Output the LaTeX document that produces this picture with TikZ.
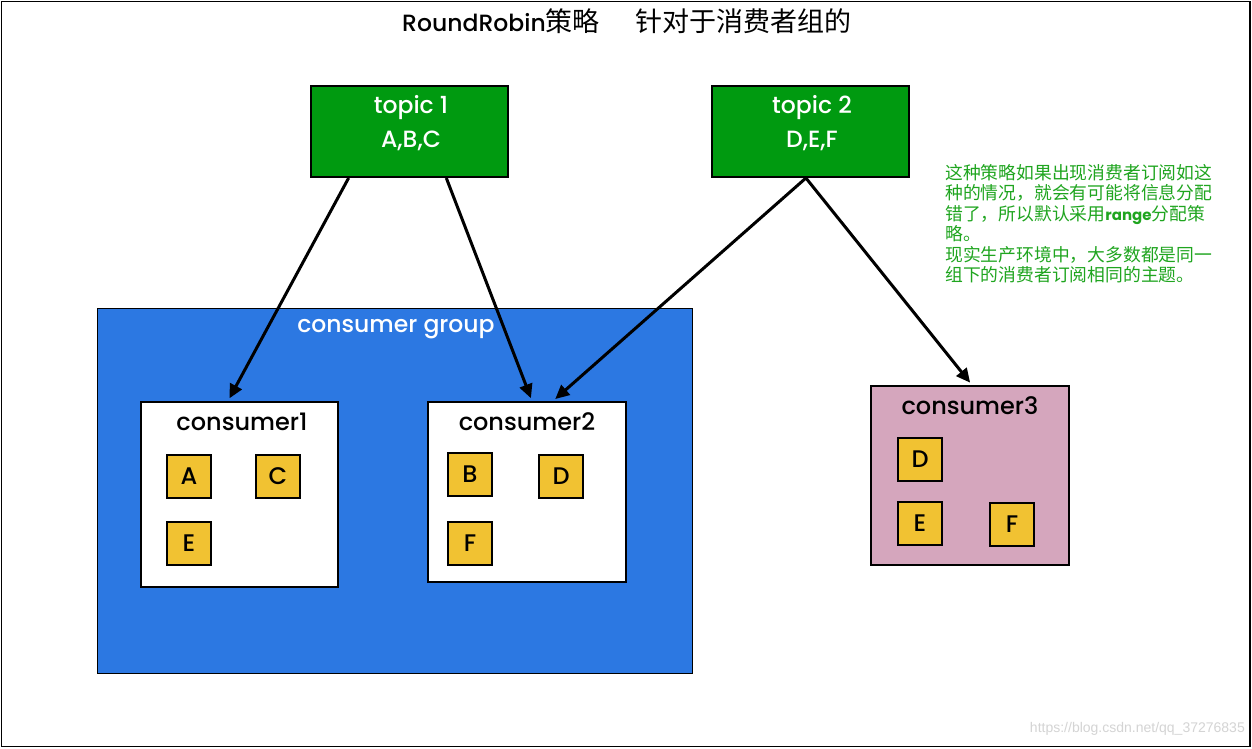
\documentclass[tikz,border=0pt]{standalone}
\usepackage{fontspec}
\setmainfont{Poppins}[UprightFont={* Medium},BoldFont={* Bold}]
\newfontfamily\titlefont{Poppins}
\newfontfamily\cjk{Noto Sans CJK SC}
\newfontfamily\wm{Liberation Sans}
\usetikzlibrary{arrows.meta,calc}
\definecolor{topicgreen}{HTML}{009A10}
\definecolor{groupblue}{HTML}{2C78E2}
\definecolor{cpink}{HTML}{D5A6BD}
\definecolor{pyellow}{HTML}{F1C232}
\definecolor{notegreen}{HTML}{1FA51F}
\definecolor{wmgray}{HTML}{D4D4D4}
\begin{document}
\begin{tikzpicture}[x=1pt,y=-1pt,
  topicbox/.style={draw=black,line width=2pt,fill=topicgreen,minimum width=197pt,minimum height=91pt,inner sep=0pt},
  topiclabel/.style={text=white,align=center,inner sep=0pt,font=\fontsize{23.5}{34}\selectfont},
  groupbox/.style={draw=black,line width=1pt,fill=groupblue,minimum width=595pt,minimum height=365pt,inner sep=0pt},
  consbox/.style={draw=black,line width=2pt,minimum width=197pt,inner sep=0pt},
  conslabel/.style={font=\fontsize{24}{28}\selectfont,inner sep=0pt},
  partbox/.style={draw=black,line width=1.8pt,fill=pyellow,minimum width=44pt,minimum height=43pt,inner sep=0pt,font=\fontsize{24}{28}\selectfont},
  link/.style={line width=3pt,-{Triangle[length=14pt,width=13pt]},shorten >=3pt},
  notetext/.style={text=notegreen,anchor=north west,inner sep=0pt,align=left,font=\cjk\fontsize{17.8}{20.5}\selectfont}
]
\useasboundingbox (0,0) rectangle (1252,748);
\draw[line width=1.5pt,fill=white] (1.5,1.5) rectangle (1250,746.5);
\node[font=\fontsize{23.5}{28}\selectfont,inner sep=0pt] (title) at (627,21) {RoundRobin{\cjk\fontsize{27}{28}\selectfont 策略\hspace{36pt}针对于消费者组的}};

\node[topicbox] (t1) at (409.5,131.5) {};
\node[topiclabel] (t1l) at (411,123) {topic 1\\A,B,C};
\node[topicbox] (t2) at (810.5,131.5) {};
\node[topiclabel] (t2l) at (812,123) {topic 2\\D,E,F};

\node[groupbox] (grp) at (394.5,490.5) {};
\node[text=white,font=\fontsize{23.5}{28}\selectfont,inner sep=0pt] (grplabel) at (396,329) {consumer group};

\node[consbox,fill=white,minimum height=185pt] (c1) at (239.5,494.5) {};
\node[conslabel] (c1l) at (242,422) {consumer1};
\node[partbox] (c1a) at (189,476.5) {A};
\node[partbox] (c1c) at (278,476.5) {C};
\node[partbox] (c1e) at (189,543.5) {E};

\node[consbox,fill=white,minimum width=198pt,minimum height=180pt] (c2) at (527,492) {};
\node[conslabel] (c2l) at (527,422) {consumer2};
\node[partbox] (c2b) at (470,474.5) {B};
\node[partbox] (c2d) at (561,476.5) {D};
\node[partbox] (c2f) at (470,543.5) {F};

\node[consbox,fill=cpink,minimum width=198pt,minimum height=179pt] (c3) at (970,475.5) {};
\node[conslabel] (c3l) at (970,406) {consumer3};
\node[partbox] (c3d) at (920,459.5) {D};
\node[partbox] (c3e) at (920,523.5) {E};
\node[partbox] (c3f) at (1012,524.5) {F};

\draw[link] ($(t1.south west)!0.194!(t1.south east)$) -- ($(c1.north west)!0.442!(c1.north east)$);
\draw[link] ($(t1.south west)!0.685!(t1.south east)$) -- ($(c2.north west)!0.525!(c2.north east)$);
\draw[link] ($(t2.south west)!0.477!(t2.south east)$) -- ($(c2.north west)!0.63!(c2.north east)$);
\draw[link] ($(t2.south west)!0.477!(t2.south east)$) -- ($(c3.north west)!0.51!(c3.north east)$);

\node[notetext] (note) at (945,164) {这种策略如果出现消费者订阅如这\\种的情况，就会有可能将信息分配\\错了，所以默认采用{\rmfamily\bfseries\fontsize{15}{20.5}\selectfont range}分配策\\略。\\现实生产环境中，大多数都是同一\\组下的消费者订阅相同的主题。};

\node[anchor=east,text=wmgray,font=\wm\fontsize{14}{16}\selectfont,inner sep=0pt] (wmark) at (1245,729) {https://blog.csdn.net/qq\_37276835};
\end{tikzpicture}
\end{document}
